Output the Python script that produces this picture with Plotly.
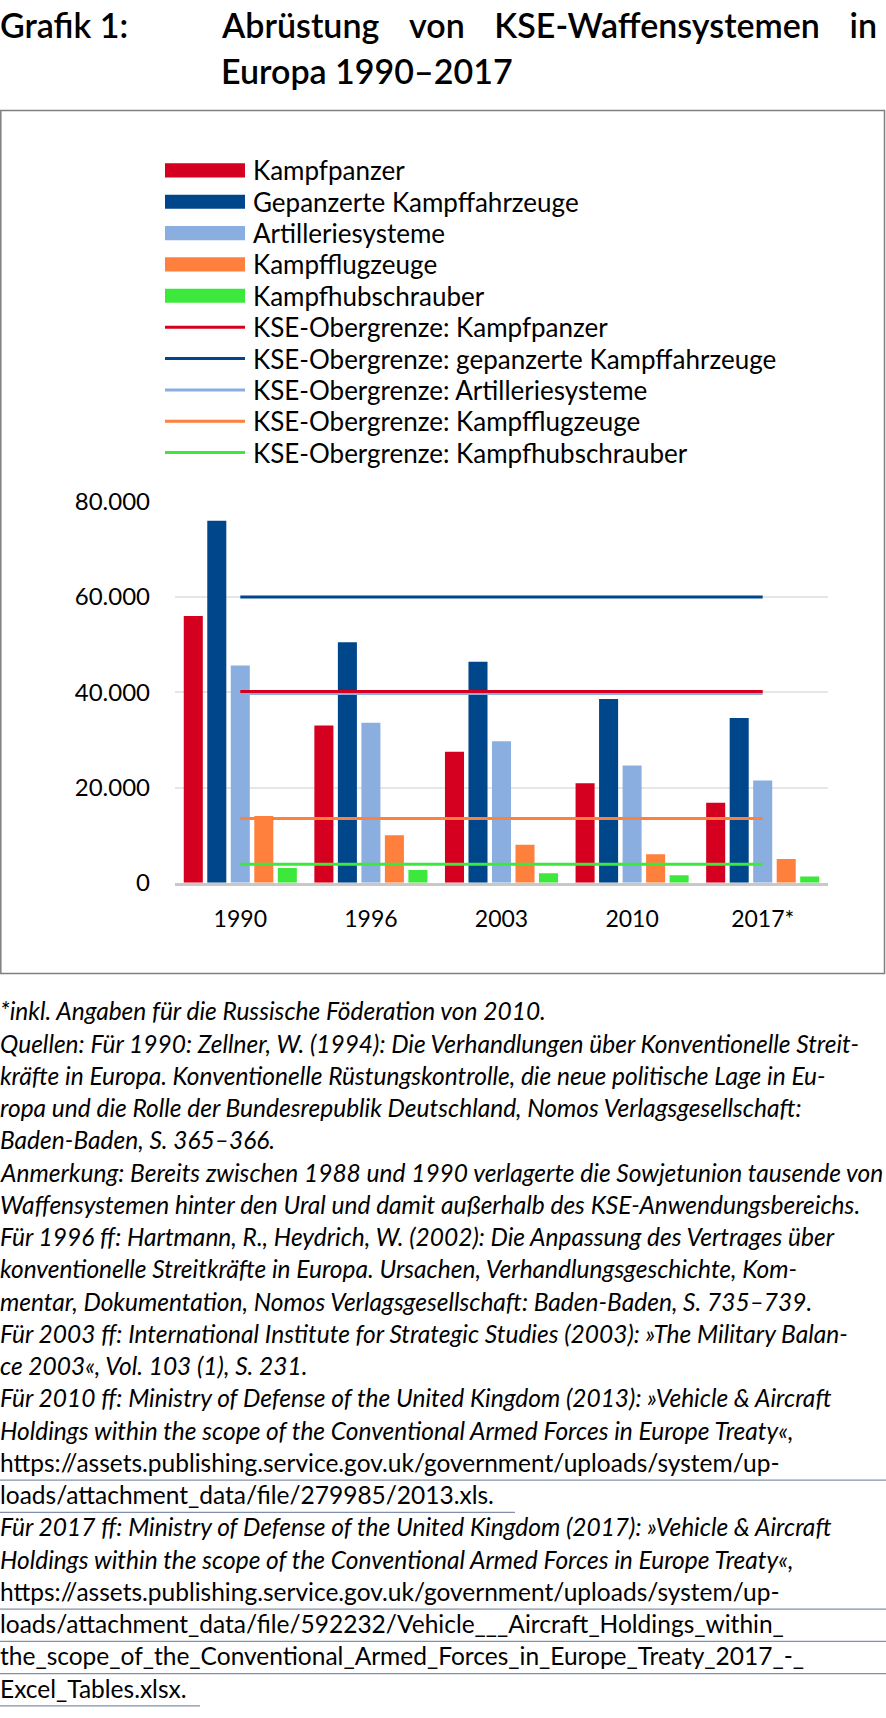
import plotly.graph_objects as go

W, H = 886, 1718

# ---------------- data ----------------
years = ["1990", "1996", "2003", "2010", "2017*"]
kampfpanzer = [56000, 33000, 27500, 20900, 16800]
gepanzerte = [76000, 50500, 46400, 38600, 34600]
artillerie = [45600, 33600, 29700, 24600, 21500]
kampfflugzeuge = [14000, 10000, 8000, 6000, 5000]
kampfhubschrauber = [3100, 2700, 2000, 1600, 1350]

limit_kampfpanzer = 40150
limit_gepanzerte = 60000
limit_artillerie = 39750
limit_flugzeuge = 13500
limit_hubschrauber = 3900

bar_names = ["Kampfpanzer", "Gepanzerte Kampffahrzeuge", "Artilleriesysteme",
             "Kampfflugzeuge", "Kampfhubschrauber"]
line_names = ["KSE-Obergrenze: Kampfpanzer",
              "KSE-Obergrenze: gepanzerte Kampffahrzeuge",
              "KSE-Obergrenze: Artilleriesysteme",
              "KSE-Obergrenze: Kampfflugzeuge",
              "KSE-Obergrenze: Kampfhubschrauber"]
y_ticks = [0, 20000, 40000, 60000, 80000]

GAP = "\u00a0" * 3 + "\u2009"
title_lines = ["Grafik 1:",
               "Abrüstung" + GAP + "von" + GAP + "KSE-Waffensystemen" + GAP + "in",
               "Europa 1990–2017"]

notes = [
    ("*inkl. Angaben für die Russische Föderation von 2010.", "i", None),
    ("Quellen: Für 1990: Zellner, W. (1994): Die Verhandlungen über Konventionelle Streit-", "i", None),
    ("kräfte in Europa. Konventionelle Rüstungskontrolle, die neue politische Lage in Eu-", "i", None),
    ("ropa und die Rolle der Bundesrepublik Deutschland, Nomos Verlagsgesellschaft:", "i", None),
    ("Baden-Baden, S. 365–366.", "i", None),
    ("Anmerkung: Bereits zwischen 1988 und 1990 verlagerte die Sowjetunion tausende von", "i", None),
    ("Waffensystemen hinter den Ural und damit außerhalb des KSE-Anwendungsbereichs.", "i", None),
    ("Für 1996 ff: Hartmann, R., Heydrich, W. (2002): Die Anpassung des Vertrages über", "i", None),
    ("konventionelle Streitkräfte in Europa. Ursachen, Verhandlungsgeschichte, Kom-", "i", None),
    ("mentar, Dokumentation, Nomos Verlagsgesellschaft: Baden-Baden, S. 735–739.", "i", None),
    ("Für 2003 ff: International Institute for Strategic Studies (2003): »The Military Balan-", "i", None),
    ("ce 2003«, Vol. 103 (1), S. 231.", "i", None),
    ("Für 2010 ff: Ministry of Defense of the United Kingdom (2013): »Vehicle & Aircraft", "i", None),
    ("Holdings within the scope of the Conventional Armed Forces in Europe Treaty«,", "i", None),
    ("https://assets.publishing.service.gov.uk/government/uploads/system/up-", "n", 886),
    ("loads/attachment_data/file/279985/2013.xls.", "n", 515),
    ("Für 2017 ff: Ministry of Defense of the United Kingdom (2017): »Vehicle & Aircraft", "i", None),
    ("Holdings within the scope of the Conventional Armed Forces in Europe Treaty«,", "i", None),
    ("https://assets.publishing.service.gov.uk/government/uploads/system/up-", "n", 886),
    ("loads/attachment_data/file/592232/Vehicle___Aircraft_Holdings_within_", "n", 886),
    ("the_scope_of_the_Conventional_Armed_Forces_in_Europe_Treaty_2017_-_", "n", 886),
    ("Excel_Tables.xlsx.", "n", 200),
]

# ---------------- styles ----------------
colors = ["#D5001F", "#00468B", "#8BAEE0", "#FF7F3D", "#3DE83D"]
FONT = "Lato"


def px(x):
    return x / W


def py(y):
    return 1 - y / H


fig = go.Figure()

bar_values = [kampfpanzer, gepanzerte, artillerie, kampfflugzeuge, kampfhubschrauber]
for name, vals, col in zip(bar_names, bar_values, colors):
    fig.add_trace(go.Bar(x=years, y=vals, name=name, marker=dict(color=col, line=dict(width=0)),
                         showlegend=False))

limits = [limit_kampfpanzer, limit_gepanzerte, limit_artillerie, limit_flugzeuge, limit_hubschrauber]
order = [2, 1, 0, 3, 4]
for i in order:
    fig.add_trace(go.Scatter(x=years, y=[limits[i]] * len(years), name=line_names[i],
                             mode="lines", line=dict(color=colors[i], width=3),
                             showlegend=False))

shapes = []
annotations = []

# frame
shapes.append(dict(type="rect", xref="paper", yref="paper", x0=px(0.8), x1=px(884.5),
                   y0=py(96), y1=py(974), line=dict(color="#7F7F7F", width=1.5),
                   fillcolor="rgba(0,0,0,0)", layer="below"))

# legend (manual)
row0, step = 157, 31.9
for i in range(10):
    yc = row0 + step * i
    col = colors[i % 5]
    if i < 5:
        shapes.append(dict(type="rect", xref="paper", yref="paper", x0=px(165), x1=px(245),
                           y0=py(yc - 7.2), y1=py(yc + 7.2), line=dict(width=0), fillcolor=col))
        label = bar_names[i]
    else:
        shapes.append(dict(type="line", xref="paper", yref="paper", x0=px(165), x1=px(245),
                           y0=py(yc), y1=py(yc), line=dict(color=col, width=3)))
        label = line_names[i - 5]
    annotations.append(dict(text=label, xref="paper", yref="paper", x=px(251), y=py(yc),
                            xanchor="left", yanchor="middle", showarrow=False,
                            font=dict(family=FONT, size=26, color="#000000")))

# title
tfont = dict(family=FONT, size=34, color="#000000", weight=600)
annotations.append(dict(text=title_lines[0], xref="paper", yref="paper", x=px(-2), y=py(9),
                        xanchor="left", yanchor="middle", showarrow=False, font=tfont))
annotations.append(dict(text=title_lines[1], xref="paper", yref="paper", x=px(219), y=py(9),
                        xanchor="left", yanchor="middle", showarrow=False, font=tfont))
annotations.append(dict(text=title_lines[2], xref="paper", yref="paper", x=px(219), y=py(55),
                        xanchor="left", yanchor="middle", showarrow=False, font=tfont))

# notes
n0, nstep = 1012, 32.8
for i, (txt, style, ul) in enumerate(notes):
    yc = n0 + nstep * i
    annotations.append(dict(text=txt, xref="paper", yref="paper", x=px(-2), y=py(yc),
                            xanchor="left", yanchor="middle", showarrow=False,
                            font=dict(family=FONT, size=24.5, color="#000000",
                                      style="italic" if style == "i" else "normal")))
    if ul:
        shapes.append(dict(type="line", xref="paper", yref="paper", x0=0, x1=px(ul),
                           y0=py(yc + 18), y1=py(yc + 18),
                           line=dict(color="#8090AA", width=1.3)))

fig.update_layout(
    width=W, height=H,
    margin=dict(l=0, r=0, t=0, b=0),
    paper_bgcolor="white", plot_bgcolor="white",
    separators=",.",
    barmode="group", bargap=0.1, bargroupgap=0.19,
    showlegend=False,
    shapes=shapes, annotations=annotations,
    font=dict(family=FONT, color="#000000"),
    xaxis=dict(domain=[px(175), px(828)], type="category", showgrid=False,
               showline=True, linecolor="#C8C8C8", linewidth=2.5,
               ticks="", ticklabelstandoff=14,
               tickfont=dict(family=FONT, size=23, color="#000000")),
    yaxis=dict(domain=[py(881.7), py(494)], range=[0, 80000], tickvals=y_ticks,
               tickformat=",d", showgrid=True, gridcolor="#E6E6E6", gridwidth=1.5,
               zeroline=False, showline=False, ticks="", ticklabelstandoff=24,
               tickfont=dict(family=FONT, size=24, color="#000000")),
)

fig.write_html("out.html", config={"displayModeBar": False},
               post_script="document.body.style.margin='0';document.body.style.overflow='hidden';")
